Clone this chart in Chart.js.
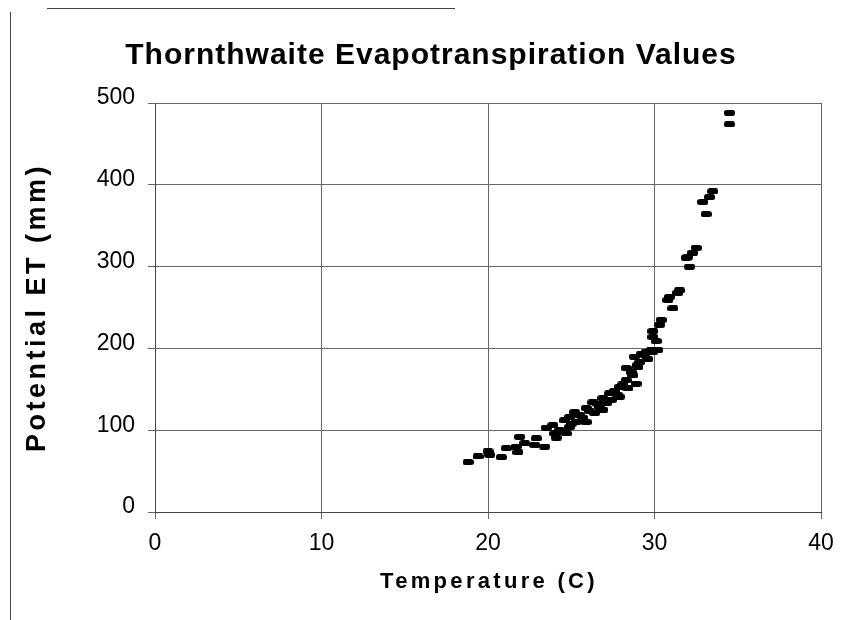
<!DOCTYPE html>
<html><head><meta charset="utf-8">
<style>html,body{margin:0;padding:0;background:#fff;}#wrap{position:relative;width:861px;height:620px;}</style>
<script src="https://cdn.jsdelivr.net/npm/chart.js@4/dist/chart.umd.min.js"></script>
</head><body><div id="wrap"><canvas id="c" width="861" height="620"></canvas></div>
<script>
const chartTitle = 'Thornthwaite Evapotranspiration Values';
const xAxisTitle = 'Temperature (C)';
const yAxisTitle = 'Potential ET (mm)';
const xTickValues = [0, 10, 20, 30, 40];
const yTickValues = [0, 100, 200, 300, 400, 500];
const temperatureC = [
  18.8, 19.4, 20.0, 20.1, 20.8, 21.1, 21.7, 21.9, 21.8, 22.2, 22.8, 22.9, 23.4, 23.5, 23.9, 24.0,
  24.1, 24.3, 24.4, 24.6, 24.7, 24.9, 24.9, 25.0, 25.2, 25.3, 25.5, 25.7, 25.9, 25.9, 26.1, 26.3,
  26.4, 26.6, 26.7, 26.9, 26.9, 27.1, 27.3, 27.4, 27.6, 27.8, 27.9, 27.9, 28.1, 28.3, 28.3, 28.4,
  28.6, 28.7, 28.8, 28.9, 29.0, 29.0, 29.1, 29.2, 29.4, 29.5, 29.6, 29.8, 29.9, 30.2,
  29.9, 29.9, 30.1, 30.3, 30.4, 30.8, 30.9, 31.1, 31.4, 31.5,
  31.9, 32.0, 32.1, 32.3, 32.5, 32.9, 33.1, 33.3, 33.5, 34.5, 34.5
];
const potentialEtMm = [
  61, 68, 74, 70, 67, 78, 80, 92, 73, 84, 82, 90, 80, 103, 106, 96,
  91, 100, 98, 112, 96, 116, 104, 108, 122, 110, 118, 115, 127, 110, 123, 134,
  121, 132, 128, 139, 125, 133, 145, 137, 148, 143, 153, 141, 156, 161, 176, 151,
  171, 167, 190, 157, 177, 180, 183, 193, 192, 196, 187, 198, 196, 198,
  221, 214, 209, 229, 235, 259, 263, 249, 268, 271,
  311, 312, 300, 317, 323, 379, 364, 385, 392, 488, 474
];

function dashMarker() {
  const c = document.createElement('canvas');
  c.width = 11; c.height = 6;
  const g = c.getContext('2d');
  g.fillStyle = '#000';
  g.beginPath();
  if (g.roundRect) g.roundRect(0, 0, 11, 6, 2.5); else g.rect(0, 0, 11, 6);
  g.fill();
  return c;
}

const FONT = '"Liberation Sans", Arial, Helvetica, sans-serif';

const decor = {
  id: 'decor',
  beforeDraw(chart) {
    const ctx = chart.ctx;
    ctx.save();
    ctx.fillStyle = '#fff';
    ctx.fillRect(0, 0, chart.width, chart.height);
    ctx.strokeStyle = '#444';
    ctx.lineWidth = 1;
    ctx.beginPath();
    ctx.moveTo(10.5, 12); ctx.lineTo(10.5, 620);
    ctx.moveTo(47, 8.5); ctx.lineTo(455, 8.5);
    ctx.stroke();
    ctx.restore();
  },
  afterDraw(chart) {
    const ctx = chart.ctx;
    const a = chart.chartArea;
    ctx.save();
    ctx.fillStyle = '#000';
    ctx.textAlign = 'center';
    ctx.textBaseline = 'middle';
    ctx.font = 'bold 30px ' + FONT;
    ctx.letterSpacing = '1px';
    ctx.fillText(chartTitle, 431, 56);
    ctx.font = 'bold 22px ' + FONT;
    ctx.letterSpacing = '3.3px';
    ctx.fillText(xAxisTitle, 489, 582);
    ctx.translate(38, (a.top + a.bottom) / 2);
    ctx.rotate(-Math.PI / 2);
    ctx.font = 'bold 27px ' + FONT;
    ctx.letterSpacing = '3.5px';
    ctx.fillText(yAxisTitle, 0, 0);
    ctx.restore();
  }
};

new Chart(document.getElementById('c'), {
  type: 'scatter',
  data: {
    datasets: [{
      data: temperatureC.map((t, i) => ({ x: t, y: potentialEtMm[i] })),
      pointStyle: dashMarker(),
      pointRadius: 5,
      backgroundColor: '#000',
      borderColor: '#000'
    }]
  },
  plugins: [decor],
  options: {
    responsive: false,
    devicePixelRatio: 1,
    animation: false,
    layout: { padding: { top: 103, right: 40, bottom: 0, left: 0 } },
    plugins: { legend: { display: false }, tooltip: { enabled: false }, title: { display: false } },
    scales: {
      x: {
        type: 'linear', min: 0, max: 40,
        afterBuildTicks(s) { s.ticks = xTickValues.map(v => ({ value: v })); },
        afterFit(s) { s.height = 108; },
        ticks: { color: '#000', font: { family: FONT, size: 23 }, padding: 11, maxRotation: 0 },
        grid: { color: '#666', lineWidth: 1, tickLength: 7 },
        border: { color: '#444', width: 1 }
      },
      y: {
        type: 'linear', min: 0, max: 500,
        afterBuildTicks(s) { s.ticks = yTickValues.map(v => ({ value: v })); },
        afterFit(s) { s.width = 155; },
        ticks: { color: '#000', font: { family: FONT, size: 23 }, padding: 13, labelOffset: -5 },
        grid: { color: '#666', lineWidth: 1, tickLength: 7 },
        border: { color: '#444', width: 1 }
      }
    }
  }
});
</script>
</body></html>
